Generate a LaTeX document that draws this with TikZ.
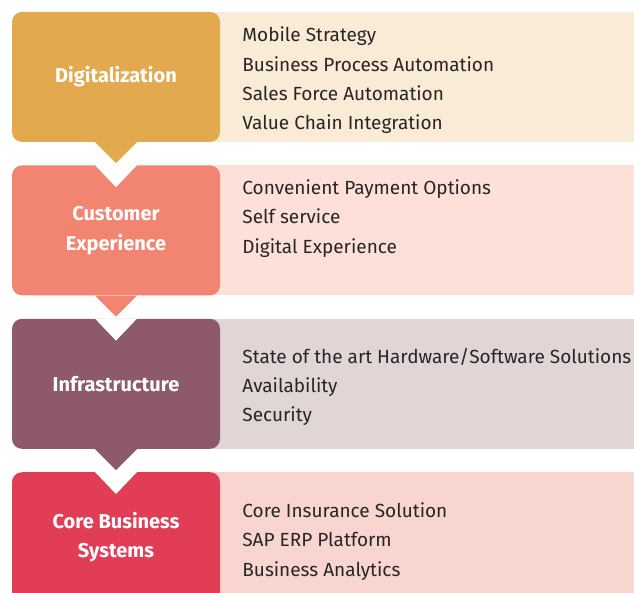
\documentclass[tikz,border=0pt]{standalone}
\usepackage{fontspec}
\setmainfont{Fira Sans}
\usetikzlibrary{positioning, backgrounds}

\definecolor{digcol}{RGB}{226,169,79}
\definecolor{custcol}{RGB}{242,132,114}
\definecolor{infracol}{RGB}{143,89,108}
\definecolor{corecol}{RGB}{226,61,87}
\definecolor{digband}{RGB}{250,235,215}
\definecolor{custband}{RGB}{253,225,217}
\definecolor{infraband}{RGB}{225,213,214}
\definecolor{coreband}{RGB}{248,214,207}
\definecolor{itemtext}{RGB}{38,38,38}

\begin{document}
\begin{tikzpicture}[
			x = 1pt, y = -1pt,
			node distance = 23pt,
			stage/.style = {rectangle, rounded corners = 10pt, minimum width = 208pt, minimum height = 130pt, inner sep = 0pt, align = center, text = white, font = \fontsize{20}{29.5}\selectfont\bfseries},
			band/.style = {rectangle, anchor = west, minimum width = 440pt, minimum height = 130pt, inner sep = 0pt},
			items/.style = {anchor = base west, align = left, inner sep = 0pt, text = itemtext, font = \fontsize{19}{29.3}\selectfont}
		]
		\useasboundingbox (0,0) rectangle (634,593);
		\clip (0,0) rectangle (634,593);
		% stages
		\node[stage, fill = digcol] (dig) at (116,77) {Digitalization};
		\node[stage, fill = custcol, below = of dig] (cust) {Customer\\Experience};
		\node[stage, fill = infracol, below = of cust] (infra) {Infrastructure};
		\node[stage, fill = corecol, below = of infra] (core) {Core Business\\Systems};
		% bands
		\begin{scope}[on background layer]
			\node[band, fill = digband] (digitems) at ([xshift = -12pt]dig.east) {};
			\node[band, fill = custband] (custitems) at ([xshift = -12pt]cust.east) {};
			\node[band, fill = infraband] (infraitems) at ([xshift = -12pt]infra.east) {};
			\node[band, fill = coreband] (coreitems) at ([xshift = -12pt]core.east) {};
		\end{scope}
		% items (base = last line)
		\node[items] (diglist) at ([xshift = 22pt, yshift = -118pt]dig.north east) {Mobile Strategy\\Business Process Automation\\Sales Force Automation\\Value Chain Integration};
		\node[items] (custlist) at ([xshift = 22pt, yshift = -88pt]cust.north east) {Convenient Payment Options\\Self service\\Digital Experience};
		\node[items] (infralist) at ([xshift = 22pt, yshift = -103pt]infra.north east) {State of the art Hardware/Software Solutions\\Availability\\Security};
		\node[items] (corelist) at ([xshift = 22pt, yshift = -104pt]core.north east) {Core Insurance Solution\\SAP ERP Platform\\Business Analytics};
		% arrows
		\foreach \a/\b/\c in {dig/cust/digcol, cust/infra/custcol, infra/core/infracol} {
			\fill[\c] ([xshift = -21pt]\a.south) -- ([xshift = 21pt]\a.south) -- ([yshift = -21pt]\a.south) -- cycle;
			\fill[white] ([xshift = -21pt]\b.north) -- ([xshift = 21pt]\b.north) -- ([yshift = -22pt]\b.north) -- cycle;
		}
\end{tikzpicture}
\end{document}
